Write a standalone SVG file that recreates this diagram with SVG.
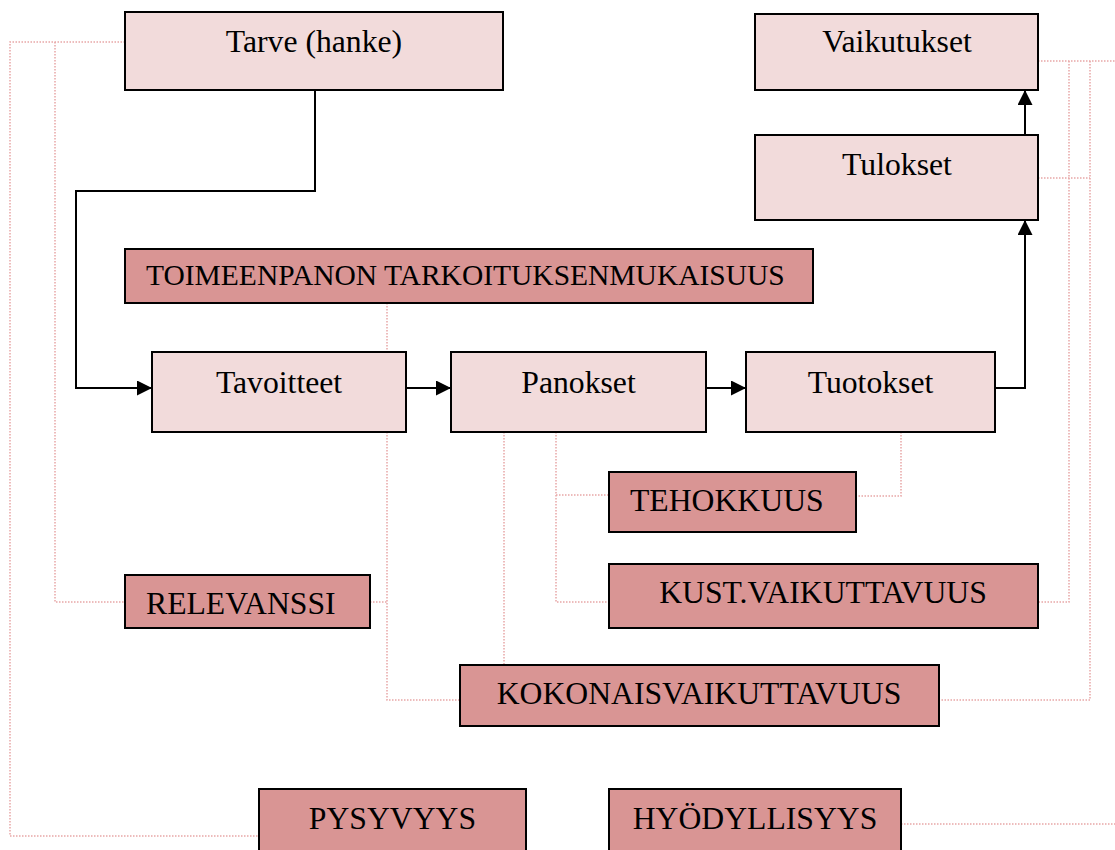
<svg xmlns="http://www.w3.org/2000/svg" width="1115" height="850" viewBox="0 0 1115 850">
<style>
.lt{fill:#F2DBDB;stroke:#000;stroke-width:2}
.dk{fill:#D99594;stroke:#000;stroke-width:2}
.t{font-family:"Liberation Serif","Times New Roman",serif;font-size:31.7px;fill:#000}
.c{text-anchor:middle}
.dot{fill:none;stroke:#E8A6A6;stroke-width:1.5;stroke-dasharray:1.5 1.5}
.arr{fill:none;stroke:#000;stroke-width:2}
</style>
<defs>
<marker id="ah" markerUnits="userSpaceOnUse" markerWidth="15" markerHeight="15" refX="15" refY="7.5" orient="auto">
<path d="M0,0 L15,7.5 L0,15 z" fill="#000"/>
</marker>
</defs>
<rect width="1115" height="850" fill="#fff"/>
<g id="connectors">
<path class="dot" d="M125,42 H10 V836 H259"/>
<path class="dot" d="M55,42 V602 H125"/>
<path class="dot" d="M387,303 V352"/>
<path class="dot" d="M387,432 V700 H460"/>
<path class="dot" d="M370,602 H387"/>
<path class="dot" d="M504,432 V665"/>
<path class="dot" d="M556,432 V602 H609"/>
<path class="dot" d="M556,495 H609"/>
<path class="dot" d="M901,432 V496 H856"/>
<path class="dot" d="M1038,61 H1115"/>
<path class="dot" d="M1069,61 V602 H1038"/>
<path class="dot" d="M1090,61 V700 H939"/>
<path class="dot" d="M1038,178 H1090"/>
<path class="dot" d="M901,824 H1115"/>
<path class="arr" d="M315,90 V191 H76 V388 H152" marker-end="url(#ah)"/>
<path class="arr" d="M406,388 H451" marker-end="url(#ah)"/>
<path class="arr" d="M706,388 H746" marker-end="url(#ah)"/>
<path class="arr" d="M995,388 H1025 V220" marker-end="url(#ah)"/>
<path class="arr" d="M1025,135 V90" marker-end="url(#ah)"/>
</g>
<g id="tarve"><rect class="lt" x="125" y="12" width="378" height="78"/><text class="t c" x="314" y="52">Tarve (hanke)</text></g>
<g id="vaikutukset"><rect class="lt" x="755" y="14" width="283" height="76"/><text class="t c" x="897" y="52">Vaikutukset</text></g>
<g id="tulokset"><rect class="lt" x="755" y="135" width="283" height="85"/><text class="t c" x="897" y="175">Tulokset</text></g>
<g id="toimeenpanon"><rect class="dk" x="125" y="249" width="688" height="54"/><text class="t" x="146" y="285" style="font-size:29.5px">TOIMEENPANON TARKOITUKSENMUKAISUUS</text></g>
<g id="tavoitteet"><rect class="lt" x="152" y="352" width="254" height="80"/><text class="t c" x="279" y="393">Tavoitteet</text></g>
<g id="panokset"><rect class="lt" x="451" y="352" width="255" height="80"/><text class="t c" x="578.5" y="393">Panokset</text></g>
<g id="tuotokset"><rect class="lt" x="746" y="352" width="249" height="80"/><text class="t c" x="870.5" y="393">Tuotokset</text></g>
<g id="tehokkuus"><rect class="dk" x="609" y="472" width="247" height="60"/><text class="t" x="630" y="511">TEHOKKUUS</text></g>
<g id="kust"><rect class="dk" x="609" y="564" width="429" height="64"/><text class="t c" x="823" y="603">KUST.VAIKUTTAVUUS</text></g>
<g id="relevanssi"><rect class="dk" x="125" y="575" width="245" height="53"/><text class="t" x="146" y="614">RELEVANSSI</text></g>
<g id="kokonais"><rect class="dk" x="460" y="665" width="479" height="61"/><text class="t c" x="699" y="704">KOKONAISVAIKUTTAVUUS</text></g>
<g id="pysyvyys"><rect class="dk" x="259" y="789" width="267" height="80"/><text class="t c" x="392.5" y="829">PYSYVYYS</text></g>
<g id="hyodyllisyys"><rect class="dk" x="609" y="789" width="292" height="80"/><text class="t c" x="755" y="829">HYÖDYLLISYYS</text></g>
</svg>
